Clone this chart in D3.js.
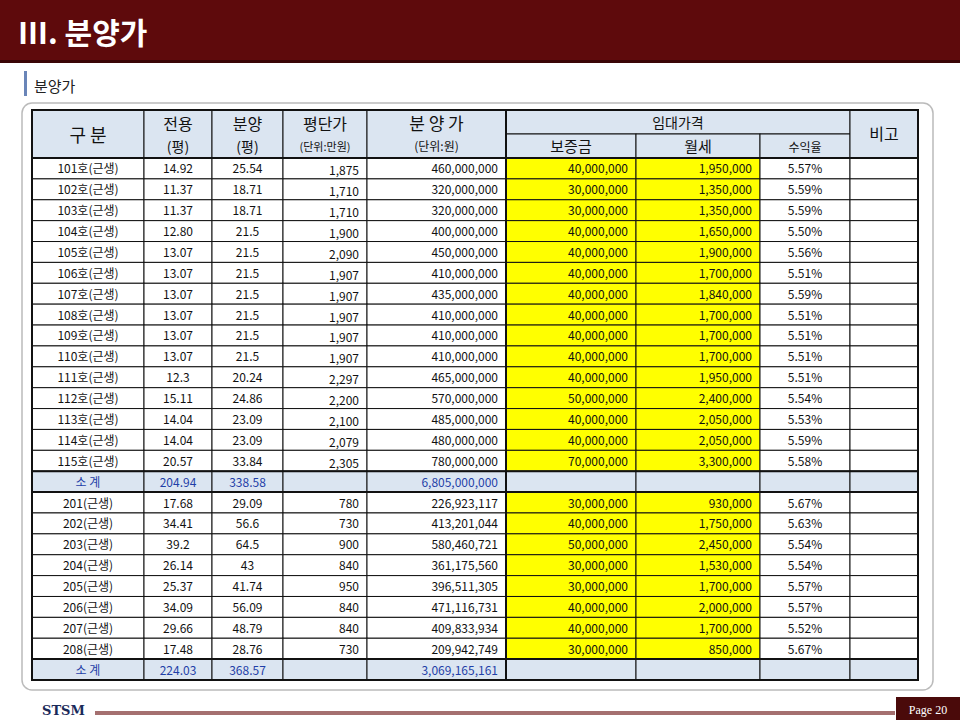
<!DOCTYPE html>
<html>
<head>
<meta charset="utf-8">
<script src="https://cdn.jsdelivr.net/npm/d3@7"></script>
<style>
body{margin:0;background:#fff;}
svg{display:block;font-family:"Noto Sans CJK KR","Noto Sans",sans-serif;}
</style>
</head>
<body>
<svg id="chart" width="960" height="720"></svg>
<script>
// unit names
var units1 = ["101호(근생)","102호(근생)","103호(근생)","104호(근생)","105호(근생)","106호(근생)","107호(근생)","108호(근생)","109호(근생)","110호(근생)","111호(근생)","112호(근생)","113호(근생)","114호(근생)","115호(근생)"];
var area1 = ["14.92","11.37","11.37","12.80","13.07","13.07","13.07","13.07","13.07","13.07","12.3","15.11","14.04","14.04","20.57"];
var sale1 = ["25.54","18.71","18.71","21.5","21.5","21.5","21.5","21.5","21.5","21.5","20.24","24.86","23.09","23.09","33.84"];
var unitPrice1 = [1875,1710,1710,1900,2090,1907,1907,1907,1907,1907,2297,2200,2100,2079,2305];
var price1 = [460000000,320000000,320000000,400000000,450000000,410000000,435000000,410000000,410000000,410000000,465000000,570000000,485000000,480000000,780000000];
var deposit1 = [40000000,30000000,30000000,40000000,40000000,40000000,40000000,40000000,40000000,40000000,40000000,50000000,40000000,40000000,70000000];
var rent1 = [1950000,1350000,1350000,1650000,1900000,1700000,1840000,1700000,1700000,1700000,1950000,2400000,2050000,2050000,3300000];
var yield1 = ["5.57%","5.59%","5.59%","5.50%","5.56%","5.51%","5.59%","5.51%","5.51%","5.51%","5.51%","5.54%","5.53%","5.59%","5.58%"];
var subtotal1 = ["204.94","338.58",6805000000];

var units2 = ["201(근생)","202(근생)","203(근생)","204(근생)","205(근생)","206(근생)","207(근생)","208(근생)"];
var area2 = ["17.68","34.41","39.2","26.14","25.37","34.09","29.66","17.48"];
var sale2 = ["29.09","56.6","64.5","43","41.74","56.09","48.79","28.76"];
var unitPrice2 = [780,730,900,840,950,840,840,730];
var price2 = [226923117,413201044,580460721,361175560,396511305,471116731,409833934,209942749];
var deposit2 = [30000000,40000000,50000000,30000000,30000000,40000000,40000000,30000000];
var rent2 = [930000,1750000,2450000,1530000,1700000,2000000,1700000,850000];
var yield2 = ["5.67%","5.63%","5.54%","5.54%","5.57%","5.57%","5.52%","5.67%"];
var subtotal2 = ["224.03","368.57",3069165161];

var colEdges = [32,144,212,283,367,506,636,760,850,918];
var fmt = d3.format(",");
var svg = d3.select("#chart");

// header bar
svg.append("rect").attr("x",0).attr("y",0).attr("width",960).attr("height",62).attr("fill","#5e0a0c");
svg.append("rect").attr("x",0).attr("y",60).attr("width",960).attr("height",3).attr("fill","#3a0506");
svg.append("text").attr("x",18).attr("y",44).attr("fill","#fff").attr("font-size",30).attr("font-weight","bold")
  .attr("font-family","\"Noto Sans CJK KR\",serif").text("Ⅲ. 분양가");
svg.append("rect").attr("x",24).attr("y",71).attr("width",3).attr("height",25).attr("fill","#6a85b8");
svg.append("text").attr("x",34).attr("y",92).attr("font-size",15).attr("fill","#222").text("분양가");

// rounded panel
svg.append("rect").attr("x",22).attr("y",103).attr("width",911).attr("height",587).attr("rx",10)
  .attr("fill","#fff").attr("stroke","#bbb").attr("stroke-width",1.5);

// rows
var rows = [];
units1.forEach(function(u,i){ rows.push({type:"d",c:[u,area1[i],sale1[i],fmt(unitPrice1[i]),fmt(price1[i]),fmt(deposit1[i]),fmt(rent1[i]),yield1[i],""]}); });
rows.push({type:"s",c:["소  계",subtotal1[0],subtotal1[1],"",fmt(subtotal1[2]),"","","",""]});
units2.forEach(function(u,i){ rows.push({type:"d",c:[u,area2[i],sale2[i],fmt(unitPrice2[i]),fmt(price2[i]),fmt(deposit2[i]),fmt(rent2[i]),yield2[i],""]}); });
rows.push({type:"s",c:["소  계",subtotal2[0],subtotal2[1],"",fmt(subtotal2[2]),"","","",""]});

var y = d3.scaleLinear().domain([0,rows.length]).range([158,680]);
var hdrFill = "#dbe5f1";
var g = svg.append("g");

// header cells
function cell(x0,x1,y0,y1,fill){ g.append("rect").attr("x",x0).attr("y",y0).attr("width",x1-x0).attr("height",y1-y0).attr("fill",fill).attr("stroke","#111").attr("stroke-width",1); }
for (var k=0;k<5;k++) cell(colEdges[k],colEdges[k+1],110,158,hdrFill);
cell(colEdges[5],colEdges[8],110,134,hdrFill);
for (k=5;k<8;k++) cell(colEdges[k],colEdges[k+1],134,158,hdrFill);
cell(colEdges[8],colEdges[9],110,158,hdrFill);

function htext(x,yy,s,size){ g.append("text").attr("x",x).attr("y",yy).attr("text-anchor","middle").attr("font-size",size).attr("fill","#111").text(s); }
function mid(k){ return (colEdges[k]+colEdges[k+1])/2; }
htext(mid(0),142,"구   분",18);
htext(mid(1),130,"전용",16); htext(mid(1),152,"(평)",14);
htext(mid(2),130,"분양",16); htext(mid(2),152,"(평)",14);
htext(mid(3),130,"평단가",16); htext(mid(3),151,"(단위:만원)",11);
htext(mid(4),130,"분 양 가",17); htext(mid(4),151,"(단위:원)",12);
htext((colEdges[5]+colEdges[8])/2,128,"임대가격",14);
htext(mid(5),152,"보증금",15); htext(mid(6),152,"월세",15); htext(mid(7),152,"수익율",12);
htext(mid(8),140,"비고",16);

// body cells
var align = ["m","m","m","r","r","r","r","m","m"];
rows.forEach(function(r,i){
  var y0 = y(i), y1 = y(i+1);
  for (var k=0;k<9;k++){
    var fill = r.type==="s" ? hdrFill : ((k===5||k===6) ? "#ffff00" : "#fff");
    cell(colEdges[k],colEdges[k+1],y0,y1,fill);
    var t = r.c[k]; if (!t) continue;
    var yy = (y0+y1)/2 + 5 + (k===3 && r.type==="d" && i<15 ? 2 : 0);
    var tx = g.append("text").attr("y",yy).attr("font-size",12).attr("fill", r.type==="s" ? "#1f3fa8" : "#111").text(t);
    if (align[k]==="m") tx.attr("x",mid(k)).attr("text-anchor","middle");
    else tx.attr("x",colEdges[k+1]-8).attr("text-anchor","end");
  }
});
// thicker outer and section lines
g.append("rect").attr("x",colEdges[0]).attr("y",110).attr("width",colEdges[9]-colEdges[0]).attr("height",570)
  .attr("fill","none").attr("stroke","#111").attr("stroke-width",2);
[158,y(15),y(16),y(24)].forEach(function(v){
  g.append("line").attr("x1",colEdges[0]).attr("x2",colEdges[9]).attr("y1",v).attr("y2",v).attr("stroke","#111").attr("stroke-width",2);
});
g.append("line").attr("x1",colEdges[5]).attr("x2",colEdges[5]).attr("y1",110).attr("y2",680).attr("stroke","#111").attr("stroke-width",2);

// footer
svg.append("text").attr("x",42).attr("y",715).attr("font-size",13).attr("font-weight","bold").attr("fill","#1a2a5a")
  .attr("font-family","\"DejaVu Serif\",serif").text("STSM");
svg.append("rect").attr("x",95).attr("y",711).attr("width",800).attr("height",4).attr("fill","#a57070");
svg.append("rect").attr("x",896).attr("y",697).attr("width",64).attr("height",23).attr("fill","#4a0a0a");
svg.append("text").attr("x",928).attr("y",714).attr("text-anchor","middle").attr("font-size",12).attr("fill","#fff")
  .attr("font-family","\"Liberation Serif\",serif").text("Page 20");
</script>
</body>
</html>
